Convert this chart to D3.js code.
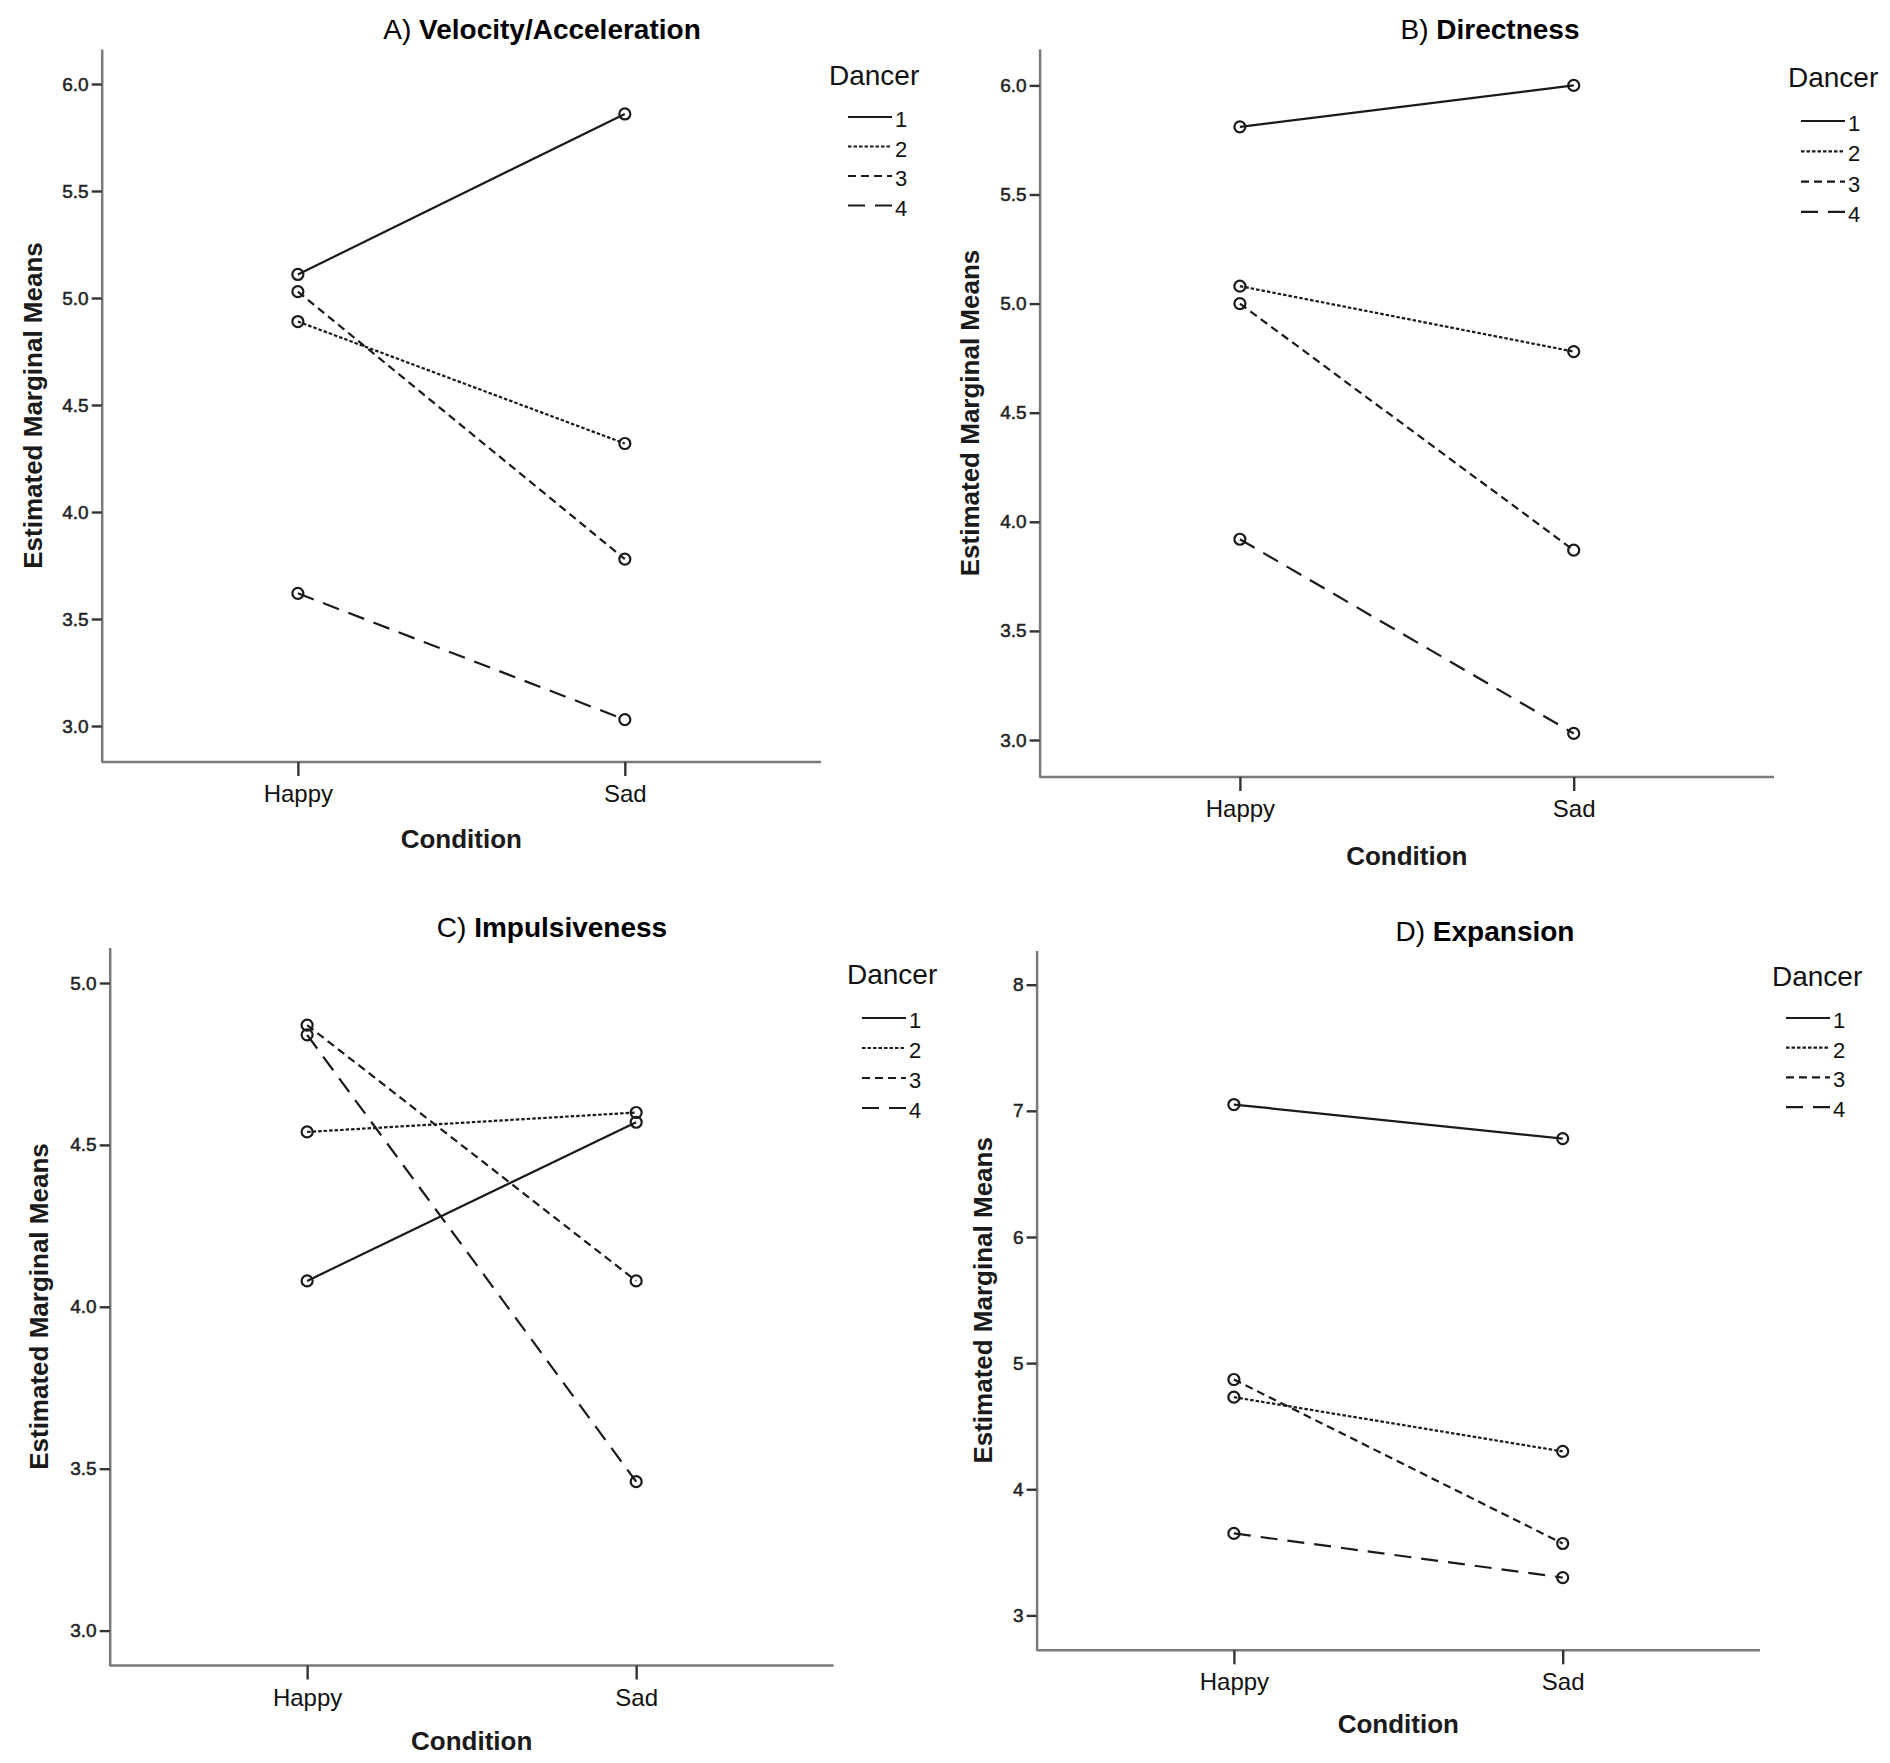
<!DOCTYPE html>
<html>
<head>
<meta charset="utf-8">
<script src="https://cdn.jsdelivr.net/npm/d3@7"></script>
<style>
  html, body { margin: 0; padding: 0; background: #fff; }
  svg { display: block; font-family: "Liberation Sans", Arial, sans-serif; }
</style>
</head>
<body>
<svg id="chart" width="1890" height="1763"></svg>
<script>
// ---- data ----
const conditions = ["Happy", "Sad"];
const dancers = ["1", "2", "3", "4"];

// values per dancer: [Happy, Sad]
const velocity      = [[5.11, 5.86], [4.89, 4.32], [5.03, 3.78], [3.62, 3.03]];
const directness    = [[5.81, 6.00], [5.08, 4.78], [5.00, 3.87], [3.92, 3.03]];
const impulsiveness = [[4.08, 4.57], [4.54, 4.60], [4.87, 4.08], [4.84, 3.46]];
const expansion     = [[7.05, 6.78], [4.73, 4.30], [4.87, 3.57], [3.65, 3.30]];

const ticksVelocity   = [3.0, 3.5, 4.0, 4.5, 5.0, 5.5, 6.0];
const ticksDirectness = [3.0, 3.5, 4.0, 4.5, 5.0, 5.5, 6.0];
const ticksImpulsive  = [3.0, 3.5, 4.0, 4.5, 5.0];
const ticksExpansion  = [3, 4, 5, 6, 7, 8];

const titleLetters = ["A)", "B)", "C)", "D)"];
const titleNames = ["Velocity/Acceleration", "Directness", "Impulsiveness", "Expansion"];
const yTitle = "Estimated Marginal Means";
const xTitle = "Condition";
const legendTitle = "Dancer";

// ---- layout (pixel geometry only) ----
const panels = [
  { values: velocity, ticks: ticksVelocity, fmt: d3.format(".1f"),
    left: 101.7, right: 821, top: 49, bottom: 762, lo: 3, loY: 726, hi: 6, hiY: 84,
    yTitleX: 42, titleX: 542, titleY: 39, dancerX: 829, lineX: 848, dancerY: 85, row0: 117, rowStep: 29.5, condY: 848 },
  { values: directness, ticks: ticksDirectness, fmt: d3.format(".1f"),
    left: 1039.6, right: 1774, top: 49, bottom: 777, lo: 3, loY: 740, hi: 6, hiY: 85.4,
    yTitleX: 979, titleX: 1490, titleY: 39, dancerX: 1788, lineX: 1801, dancerY: 87, row0: 121, rowStep: 30.3, condY: 865 },
  { values: impulsiveness, ticks: ticksImpulsive, fmt: d3.format(".1f"),
    left: 109.7, right: 833.6, top: 947.6, bottom: 1665.5, lo: 3, loY: 1630.6, hi: 5, hiY: 983,
    yTitleX: 48, titleX: 552, titleY: 937, dancerX: 847, lineX: 862, dancerY: 984, row0: 1018, rowStep: 30, condY: 1750 },
  { values: expansion, ticks: ticksExpansion, fmt: d3.format("d"),
    left: 1036.6, right: 1760, top: 950.4, bottom: 1650.3, lo: 3, loY: 1615.4, hi: 8, hiY: 984.7,
    yTitleX: 992, titleX: 1485, titleY: 941, dancerX: 1772, lineX: 1786, dancerY: 986, row0: 1018, rowStep: 29.7, condY: 1733 }
];

const dashes = [null, "3.5,2", "8,5", "17,10"];
const ink = "#1a1a1a";
const axisGray = "#7a7a7a";

const svg = d3.select("#chart");
svg.append("rect").attr("width", 1890).attr("height", 1763).attr("fill", "#fff");

panels.forEach((p, i) => {
  const g = svg.append("g");

  // scales
  const calib = d3.scaleLinear().domain([p.lo, p.hi]).range([p.loY, p.hiY]);
  const y = d3.scaleLinear()
    .domain([calib.invert(p.bottom), calib.invert(p.top)])
    .range([p.bottom, p.top]);
  const x = d3.scalePoint().domain(conditions).range([p.left, p.right]).padding(0.6);

  // y axis
  const ya = g.append("g").attr("transform", `translate(${p.left},0)`)
    .call(d3.axisLeft(y).tickValues(p.ticks).tickFormat(p.fmt).tickSize(10).tickSizeOuter(0).tickPadding(3));
  ya.select(".domain").attr("stroke", axisGray).attr("stroke-width", 2.5);
  ya.selectAll(".tick line").attr("stroke", "#333").attr("stroke-width", 2.4);
  ya.selectAll(".tick text").attr("fill", "#222").attr("stroke", "#222").attr("stroke-width", 0.5)
    .style("font-size", "19px")
    .style("font-family", "'Liberation Sans', Arial, sans-serif");

  // x axis
  const xa = g.append("g").attr("transform", `translate(0,${p.bottom})`)
    .call(d3.axisBottom(x).tickSize(14).tickSizeOuter(0).tickPadding(9));
  xa.select(".domain").attr("stroke", axisGray).attr("stroke-width", 2.5)
    .attr("d", `M${p.left},0H${p.right}`);
  xa.selectAll(".tick line").attr("stroke", "#333").attr("stroke-width", 2.4);
  xa.selectAll(".tick text").attr("fill", "#111").style("font-size", "24px")
    .style("font-family", "'Liberation Sans', Arial, sans-serif");

  // axis titles
  g.append("text")
    .attr("transform", `translate(${p.yTitleX},${(p.top + p.bottom) / 2}) rotate(-90)`)
    .attr("text-anchor", "middle").attr("font-weight", "bold").attr("font-size", 26)
    .attr("fill", ink).text(yTitle);
  g.append("text")
    .attr("x", (p.left + p.right) / 2).attr("y", p.condY)
    .attr("text-anchor", "middle").attr("font-weight", "bold").attr("font-size", 26)
    .attr("fill", ink).text(xTitle);

  // panel title
  const t = g.append("text").attr("x", p.titleX).attr("y", p.titleY)
    .attr("text-anchor", "middle").attr("font-size", 28).attr("fill", "#000");
  t.append("tspan").attr("font-weight", "normal").text(titleLetters[i] + " ");
  t.append("tspan").attr("font-weight", "bold").text(titleNames[i]);

  // series lines + markers
  const line = d3.line().x((d, j) => x(conditions[j])).y(d => y(d));
  p.values.forEach((vals, k) => {
    g.append("path").datum(vals)
      .attr("d", line).attr("fill", "none").attr("stroke", ink).attr("stroke-width", 2.2)
      .attr("stroke-dasharray", dashes[k]);
  });
  p.values.forEach((vals) => {
    g.selectAll(null).data(vals).enter().append("circle")
      .attr("cx", (d, j) => x(conditions[j])).attr("cy", d => y(d))
      .attr("r", 5.5).attr("fill", "none").attr("stroke", ink).attr("stroke-width", 2.2);
  });

  // legend
  g.append("text").attr("x", p.dancerX).attr("y", p.dancerY)
    .attr("font-size", 28).attr("fill", "#111").text(legendTitle);
  dancers.forEach((dn, k) => {
    const ry = p.row0 + k * p.rowStep;
    g.append("line").attr("x1", p.lineX).attr("x2", p.lineX + 44).attr("y1", ry).attr("y2", ry)
      .attr("stroke", ink).attr("stroke-width", 2.2).attr("stroke-dasharray", dashes[k]);
    g.append("text").attr("x", p.lineX + 47).attr("y", ry + 10)
      .attr("font-size", 22).attr("fill", "#111").text(dn);
  });
});
</script>
</body>
</html>
